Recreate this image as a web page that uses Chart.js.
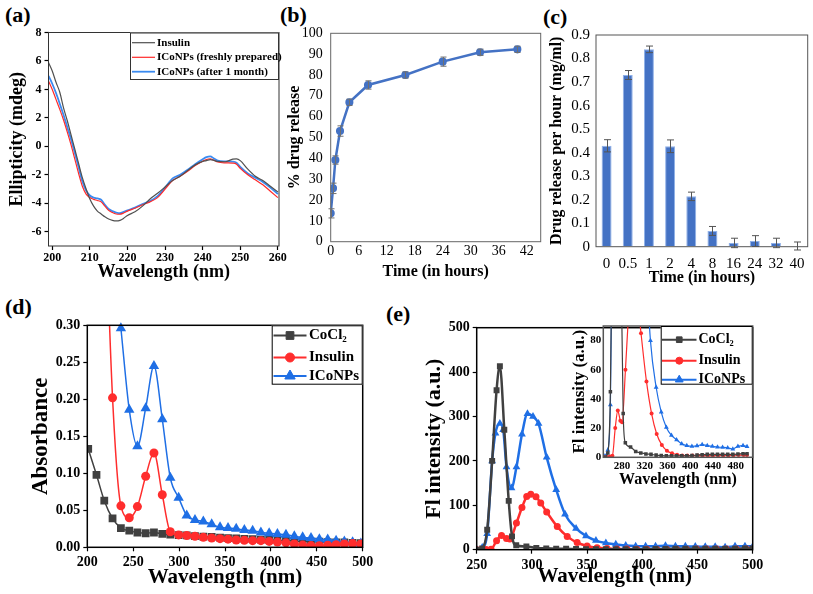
<!DOCTYPE html>
<html>
<head>
<meta charset="utf-8">
<script src="https://cdn.jsdelivr.net/npm/chart.js@4.4.0/dist/chart.umd.min.js"></script>
<style>
  body { margin: 0; background: #fff; width: 813px; height: 594px; overflow: hidden; position: relative; }
  canvas { position: absolute; }
  .tag { position: absolute; font: bold 22px "Liberation Serif", serif; line-height: 1; color: #000; }
</style>
</head>
<body>
<div class="tag" style="left:5px;top:4px">(a)</div>
<div class="tag" style="left:280px;top:4px">(b)</div>
<div class="tag" style="left:543px;top:6px">(c)</div>
<div class="tag" style="left:5px;top:296px">(d)</div>
<div class="tag" style="left:386px;top:303px">(e)</div>
<script>
// (a) CD spectra
const cdWavelength = [199, 200, 201, 202, 203, 204, 205, 206, 207, 208, 209, 210, 211, 212, 213, 214, 215, 216, 217, 218, 219, 220,
  222, 224, 226, 228, 230, 232, 234, 236, 238, 240, 241, 242, 243, 244, 246, 248, 249, 250, 252, 254, 256, 258, 260];
const cdInsulin = [5.9, 5.3, 4.5, 3.8, 2.7, 1.8, 0.8, -0.2, -1.2, -2.2, -3.0, -3.7, -4.2, -4.55, -4.75, -4.95, -5.1, -5.2, -5.24, -5.2, -5.05, -4.85,
  -4.6, -4.2, -3.7, -3.3, -2.85, -2.4, -2.1, -1.7, -1.3, -1.05, -1.0, -0.93, -0.98, -1.06, -1.08, -0.9, -0.88, -1.0, -1.6, -2.1, -2.4, -2.8, -3.2];
const cdFresh = [4.6, 4.0, 3.3, 2.6, 1.85, 1.0, 0.1, -0.9, -1.9, -2.8, -3.35, -3.6, -3.72, -3.8, -3.9, -4.2, -4.5, -4.65, -4.75, -4.77, -4.68, -4.55,
  -4.35, -4.1, -3.9, -3.6, -3.0, -2.4, -2.1, -1.75, -1.35, -1.05, -0.92, -0.87, -0.98, -1.1, -1.16, -1.18, -1.25, -1.55, -2.0, -2.35, -2.7, -3.15, -3.6];
const cdMonth = [4.95, 4.4, 3.75, 3.0, 2.2, 1.35, 0.5, -0.45, -1.45, -2.45, -3.1, -3.45, -3.6, -3.65, -3.75, -4.1, -4.4, -4.55, -4.65, -4.7, -4.6, -4.5,
  -4.3, -4.05, -3.85, -3.5, -2.9, -2.25, -2.0, -1.65, -1.25, -0.9, -0.75, -0.7, -0.85, -1.0, -1.05, -1.07, -1.15, -1.45, -1.9, -2.2, -2.5, -2.9, -3.35];
const cdXTicks = [200, 210, 220, 230, 240, 250, 260];
const cdYTicks = [-6, -4, -2, 0, 2, 4, 6, 8];

// (b) cumulative release
const releaseHours = [0, 0.5, 1, 2, 4, 8, 16, 24, 32, 40];
const releasePct = [13.6, 25.6, 39.2, 53.1, 66.9, 75.2, 80.0, 86.4, 90.9, 92.3];
const releaseErr = [2.2, 2.5, 2, 2.5, 1.5, 2, 1.5, 2.2, 1.5, 1.5];
const releaseXTicks = [0, 6, 12, 18, 24, 30, 36, 42];
const releaseYTicks = [0, 10, 20, 30, 40, 50, 60, 70, 80, 90, 100];

// (c) release per hour
const rateLabels = ['0', '0.5', '1', '2', '4', '8', '16', '24', '32', '40'];
const rateValues = [0.429, 0.730, 0.839, 0.427, 0.214, 0.067, 0.016, 0.024, 0.016, 0.003];
const rateErr = [0.026, 0.019, 0.014, 0.027, 0.018, 0.019, 0.02, 0.023, 0.02, 0.017];
const rateYTicks = [0, 0.1, 0.2, 0.3, 0.4, 0.5, 0.6, 0.7, 0.8, 0.9];

// (d) UV absorbance
const absWavelength = [201, 210, 218.5, 227.5, 236.6, 245.7, 254.6, 263.6, 272.6, 281.7, 290.4, 299.5, 308.3, 317.3, 326.4, 335.5, 344.6,
  353.3, 362.2, 371.1, 380.1, 389.1, 398.1, 407.1, 416.4, 425.5, 434.6, 443.7, 452.8, 461.9, 471, 480, 489, 498];
const absCoCl2 = [0.133, 0.098, 0.063, 0.039, 0.026, 0.0225, 0.020, 0.019, 0.020, 0.018, 0.017, 0.0165, 0.016, 0.015, 0.0145, 0.014, 0.013,
  0.0125, 0.012, 0.0115, 0.011, 0.0105, 0.010, 0.0095, 0.009, 0.0085, 0.008, 0.0078, 0.0075, 0.007, 0.0068, 0.0065, 0.006, 0.0055];
const absInsulin = [null, null, 0.5, 0.202, 0.056, 0.040, 0.055, 0.096, 0.1275, 0.071, 0.021, 0.0167, 0.016, 0.0149, 0.0135, 0.0126, 0.0117,
  0.011, 0.0099, 0.0095, 0.009, 0.009, 0.008, 0.007, 0.006, 0.0045, 0.003, 0.0023, 0.0022, 0.0027, 0.0036, 0.0045, 0.005, 0.0045];
const absIconp = [null, null, null, null, 0.296, 0.186, 0.1365, 0.188, 0.245, 0.173, 0.094, 0.067, 0.043, 0.037, 0.035, 0.031, 0.027,
  0.026, 0.025, 0.0234, 0.0225, 0.020, 0.019, 0.018, 0.017, 0.015, 0.0135, 0.0126, 0.011, 0.0104, 0.009, 0.0077, 0.0068, 0.005];
const absXTicks = [200, 250, 300, 350, 400, 450, 500];
const absYTicks = [0, 0.05, 0.10, 0.15, 0.20, 0.25, 0.30];

// (e) fluorescence
const flCoCl2Wl = [250, 255, 259.5, 264, 268, 271, 275, 279, 282, 285.8, 295, 304, 313, 322, 331, 340, 349, 358, 367, 376, 385, 394,
  403, 412, 421, 430, 439, 448, 457, 466, 475, 484, 493, 500];
const flCoCl2 = [0, 3, 45, 200, 359, 413, 270, 110, 30, 10, 7, 4, 3, 2.3, 2, 1.5, 1.2, 1, 1, 1, 1, 1,
  1.2, 1.5, 1.8, 2, 2, 2, 2, 2, 2, 2.2, 2.5, 2.5];
const flInsulinWl = [250, 254, 258.5, 263, 268, 272.5, 277, 280, 286, 291, 295.3, 299, 303.7, 308, 313.4, 323, 332, 341, 350, 359, 368,
  377, 386, 395, 404, 413, 422, 431, 440, 449, 458, 467, 476, 485, 494, 500];
const flInsulin = [0, 0, 0.5, 1, 20, 32, 25, 24, 60, 95, 120, 125, 119, 105, 85, 52, 30, 16, 8.5, 4.5, 2.8,
  1.8, 1.3, 1.2, 1.2, 1.2, 1.2, 1.2, 1.2, 1.3, 1.3, 1.3, 1.4, 1.5, 1.5, 1.5];
const flIconpWl = [250, 255, 259.5, 264, 267, 271, 274, 277, 281.5, 286, 291, 296, 301, 306, 313.4, 322, 330, 340, 349, 358, 367,
  376, 385, 394, 403, 412, 421, 430, 439, 448, 457, 466, 475, 484, 493, 500];
const flIconp = [1, 5, 36, 200, 262, 284, 270, 186, 139, 186, 260, 306, 300, 284, 208, 135, 80, 48, 31, 20.5, 15,
  12, 9.2, 8, 7.5, 7.8, 8.7, 8, 7.5, 7, 6.8, 6.5, 5.7, 7.5, 8, 7.4];
const flXTicks = [250, 300, 350, 400, 450, 500];
const flYTicks = [0, 100, 200, 300, 400, 500];
const insetXTicks = [280, 320, 360, 400, 440, 480];
const insetYTicks = [0, 20, 40, 60, 80];

const serif = 'Liberation Serif';
const font = (size, bold) => ({family: serif, size: size, weight: bold ? 'bold' : 'normal'});
const pts = (xs, ys) => xs.map((x, i) => ({x: x, y: ys[i]}));
const fixed = vals => scale => { scale.ticks = vals.map(v => ({value: v})); };

// box around the plot area
const framePlugin = {
  id: 'frame',
  afterDatasetsDraw(chart, args, o) {
    const a = chart.chartArea, ctx = chart.ctx;
    ctx.save();
    ctx.strokeStyle = o.color || '#000';
    ctx.lineWidth = o.width || 1;
    ctx.strokeRect(a.left, a.top, a.right - a.left, a.bottom - a.top);
    ctx.restore();
  }
};

// vertical error bars from dataset.errors
const errorPlugin = {
  id: 'errorBars',
  afterDatasetsDraw(chart, args, o) {
    const ctx = chart.ctx, ys = chart.scales.y;
    chart.data.datasets.forEach((ds, i) => {
      if (!ds.errors) return;
      const meta = chart.getDatasetMeta(i);
      ctx.save();
      ctx.strokeStyle = o.color || '#666';
      ctx.lineWidth = 1;
      meta.data.forEach((el, j) => {
        const raw = ds.data[j];
        const v = typeof raw === 'object' ? raw.y : raw;
        const hi = ys.getPixelForValue(v + ds.errors[j]);
        const lo = ys.getPixelForValue(v - ds.errors[j]);
        const x = Math.round(el.x) + 0.5;
        ctx.beginPath();
        ctx.moveTo(x, hi); ctx.lineTo(x, lo);
        ctx.moveTo(x - o.cap, hi); ctx.lineTo(x + o.cap, hi);
        ctx.moveTo(x - o.cap, lo); ctx.lineTo(x + o.cap, lo);
        ctx.stroke();
      });
      ctx.restore();
    });
  }
};

// Origin-style legend box drawn from the datasets
const boxLegendPlugin = {
  id: 'boxLegend',
  afterDraw(chart, args, o) {
    if (!o.box) return;
    const ctx = chart.ctx, dx = o.dx, dy = o.dy;
    const [l, t, r, b] = o.box;
    ctx.save();
    ctx.fillStyle = '#fff';
    ctx.fillRect(l - dx, t - dy, r - l, b - t);
    ctx.strokeStyle = o.borderColor || '#000';
    ctx.lineWidth = 1;
    ctx.strokeRect(l - dx + 0.5, t - dy + 0.5, r - l - 1, b - t - 1);
    ctx.font = 'bold ' + o.size + 'px "' + serif + '"';
    ctx.textBaseline = 'middle';
    chart.data.datasets.forEach((ds, k) => {
      const y = o.rows[k] - dy;
      ctx.strokeStyle = ds.borderColor;
      ctx.lineWidth = o.lineWidth || ds.borderWidth;
      ctx.beginPath();
      ctx.moveTo(o.line[0] - dx, y);
      ctx.lineTo(o.line[1] - dx, y);
      ctx.stroke();
      if (ds.pointRadius > 0) {
        ctx.fillStyle = ds.borderColor;
        ctx.lineWidth = 1;
        Chart.helpers.drawPoint(ctx, {pointStyle: ds.pointStyle, radius: o.radius[k], borderWidth: 1, rotation: 0},
          (o.line[0] + o.line[1]) / 2 - dx, y);
      }
      ctx.fillStyle = '#000';
      ctx.fillText(ds.label, o.textX - dx, y);
    });
    ctx.restore();
  }
};

function originAxis(min, max, ticks, fmt, tickFont, pad, title, titleFont, tickLen) {
  return {
    type: 'linear', min: min, max: max,
    afterBuildTicks: fixed(ticks),
    border: {display: false},
    grid: {display: true, drawOnChartArea: false, drawTicks: tickLen > 0, tickLength: tickLen, tickWidth: 1.2, tickColor: '#000'},
    ticks: {color: '#000', font: tickFont, padding: pad, autoSkip: false, maxRotation: 0, callback: fmt},
    title: {text: title, color: '#000', font: titleFont}
  };
}

function makeChart(cfg) {
  const [cx, cy, cw, ch] = cfg.canvas;
  const [bl, bt, br, bb] = cfg.box;
  const el = document.createElement('canvas');
  el.width = cw; el.height = ch;
  el.style.left = cx + 'px'; el.style.top = cy + 'px';
  el.style.width = cw + 'px'; el.style.height = ch + 'px';
  document.body.appendChild(el);
  const x = cfg.x, y = cfg.y;
  x.afterFit = s => { s.height = cy + ch - bb; };
  y.afterFit = s => { s.width = bl - cx; };
  const yl = y.title.font.size * 1.2, xl = x.title.font.size * 1.2;
  y.title.display = true;
  x.title.display = true;
  y.title.padding = {top: cfg.yTitleX - cx - yl / 2, bottom: 0};
  x.title.padding = {top: 0, bottom: cy + ch - cfg.xTitleY - xl / 2};
  const legend = cfg.legend ? Object.assign({dx: cx, dy: cy}, cfg.legend) : {};
  return new Chart(el, {
    type: cfg.type,
    data: {labels: cfg.labels, datasets: cfg.datasets},
    options: {
      responsive: false,
      animation: false,
      devicePixelRatio: 1,
      layout: {padding: {left: 0, top: bt - cy, right: cx + cw - br, bottom: 0}},
      plugins: {
        legend: {display: false},
        tooltip: {enabled: false},
        frame: cfg.frame,
        errorBars: cfg.errors || {},
        boxLegend: legend
      },
      scales: {x: x, y: y}
    },
    plugins: [framePlugin, errorPlugin, boxLegendPlugin]
  });
}

const plain = v => String(v);

// (a)
makeChart({
  type: 'line',
  canvas: [0, 0, 300, 295],
  box: [48.5, 32.5, 279, 246],
  yTitleX: 17, xTitleY: 272,
  frame: {color: '#333', width: 1},
  x: originAxis(199, 260.3, cdXTicks, plain, font(12, true), 1, 'Wavelength (nm)', font(18, true), 4),
  y: originAxis(-7, 8, cdYTicks, plain, font(12, true), 3, 'Ellipticity (mdeg)', font(18, true), 4),
  datasets: [
    {label: 'Insulin', data: pts(cdWavelength, cdInsulin), borderColor: '#505050', borderWidth: 1.2, pointRadius: 0, cubicInterpolationMode: 'monotone', tension: 0.4},
    {label: 'ICoNPs (freshly prepared)', data: pts(cdWavelength, cdFresh), borderColor: '#ff2a2a', borderWidth: 1.2, pointRadius: 0, cubicInterpolationMode: 'monotone', tension: 0.4},
    {label: 'ICoNPs (after 1 month)', data: pts(cdWavelength, cdMonth), borderColor: '#3a8af0', borderWidth: 1.8, pointRadius: 0, cubicInterpolationMode: 'monotone', tension: 0.4}
  ],
  legend: {box: [130, 32.5, 279, 80], rows: [42.7, 57.3, 71.7], line: [132, 155], textX: 157, size: 11, borderColor: '#333'}
});

// (b)
makeChart({
  type: 'line',
  canvas: [282, 0, 275, 295],
  box: [330.7, 33.3, 540.7, 241.7],
  yTitleX: 295, xTitleY: 271.5,
  frame: {color: '#666', width: 1},
  errors: {color: '#707070', cap: 3},
  x: originAxis(0, 45, releaseXTicks, plain, font(14, false), 1, 'Time (in hours)', font(16, true), 0),
  y: originAxis(0, 100, releaseYTicks, plain, font(14, false), 8, '% drug release', font(16, true), 0),
  datasets: [
    {label: 'release', data: pts(releaseHours, releasePct), errors: releaseErr, borderColor: '#4472C4', backgroundColor: '#4472C4',
      borderWidth: 2.5, pointRadius: 2.8, pointStyle: 'circle', tension: 0}
  ]
});

// (c)
const rateY = originAxis(0, 0.9, rateYTicks, v => v === 0 ? '0' : v.toFixed(1), font(15, false), 6, 'Drug release per hour (mg/ml)', font(16, true), 0);
makeChart({
  type: 'bar',
  canvas: [545, 0, 268, 295],
  box: [596, 35, 807.7, 246.7],
  yTitleX: 557, xTitleY: 278,
  frame: {color: '#555', width: 1},
  errors: {color: '#555', cap: 3.5},
  labels: rateLabels,
  x: {
    type: 'category', offset: true,
    border: {display: false}, grid: {display: false, drawTicks: false},
    ticks: {color: '#000', font: font(15, false), padding: 8, autoSkip: false, maxRotation: 0},
    title: {text: 'Time (in hours)', color: '#000', font: font(16, true)}
  },
  y: rateY,
  datasets: [
    {label: 'rate', data: rateValues, errors: rateErr, backgroundColor: '#4472C4', borderColor: '#8fb0e8', borderWidth: 1,
      barPercentage: 0.47, categoryPercentage: 1}
  ]
});

// (d)
makeChart({
  type: 'line',
  canvas: [0, 295, 400, 299],
  box: [87.3, 325.3, 362.7, 547.3],
  yTitleX: 41, xTitleY: 578,
  frame: {color: '#000', width: 1.5},
  x: originAxis(200, 500, absXTicks, plain, font(14, true), 3, 'Wavelength (nm)', font(21, true), 4),
  y: originAxis(0, 0.30, absYTicks, v => v.toFixed(2), font(14, true), 3, 'Absorbance', font(23, true), 4),
  datasets: [
    {label: 'CoCl₂', data: pts(absWavelength, absCoCl2), order: 3, borderColor: '#404040', backgroundColor: '#404040', borderWidth: 1.5,
      pointStyle: 'rect', pointRadius: 5.5, pointBorderWidth: 0, cubicInterpolationMode: 'monotone', tension: 0.4},
    {label: 'Insulin', data: pts(absWavelength, absInsulin), order: 1, borderColor: '#ff2d2d', backgroundColor: '#ff2d2d', borderWidth: 1.5,
      pointStyle: 'circle', pointRadius: 4.5, pointBorderWidth: 0, cubicInterpolationMode: 'monotone', tension: 0.4},
    {label: 'ICoNPs', data: pts(absWavelength, absIconp), order: 2, borderColor: '#1f6fe5', backgroundColor: '#1f6fe5', borderWidth: 1.5,
      pointStyle: 'triangle', pointRadius: 6, pointBorderWidth: 0, cubicInterpolationMode: 'monotone', tension: 0.4,
      clip: {left: 0, top: 8, right: 0, bottom: 0}}
  ],
  legend: {box: [271.7, 325.3, 362.7, 384.7], rows: [335.5, 357.5, 376], line: [273.5, 306.5], textX: 309, size: 15, radius: [5.5, 4.5, 6], lineWidth: 2}
});

// (e) main
makeChart({
  type: 'line',
  canvas: [405, 295, 408, 299],
  box: [476.7, 327.7, 752.7, 549.7],
  yTitleX: 434, xTitleY: 577,
  frame: {color: '#000', width: 1.5},
  x: originAxis(250, 500, flXTicks, plain, font(14, true), 3, 'Wavelength (nm)', font(21, true), 4),
  y: originAxis(0, 500, flYTicks, plain, font(14, true), 3, 'Fl intensity (a.u.)', font(22, true), 4),
  datasets: [
    {label: 'CoCl₂', data: pts(flCoCl2Wl, flCoCl2), order: 1, borderColor: '#404040', backgroundColor: '#404040', borderWidth: 2.5,
      pointStyle: 'rect', pointRadius: 4.2, pointBorderWidth: 0, cubicInterpolationMode: 'monotone', tension: 0.4},
    {label: 'Insulin', data: pts(flInsulinWl, flInsulin), order: 2, borderColor: '#ff2d2d', backgroundColor: '#ff2d2d', borderWidth: 2.5,
      pointStyle: 'circle', pointRadius: 3.5, pointBorderWidth: 0, cubicInterpolationMode: 'monotone', tension: 0.4},
    {label: 'ICoNPs', data: pts(flIconpWl, flIconp), order: 3, borderColor: '#1f6fe5', backgroundColor: '#1f6fe5', borderWidth: 2.5,
      pointStyle: 'triangle', pointRadius: 4.5, pointBorderWidth: 0, cubicInterpolationMode: 'monotone', tension: 0.4}
  ]
});

// (e) inset
makeChart({
  type: 'line',
  canvas: [560, 315, 215, 180],
  box: [603.3, 326, 752.7, 457.3],
  yTitleX: 580, xTitleY: 480,
  frame: {color: '#555', width: 1.5},
  x: originAxis(247, 510, insetXTicks, plain, font(11, true), 2, 'Wavelength (nm)', font(16, true), 0),
  y: originAxis(0, 90, insetYTicks, plain, font(11, true), 2, 'Fl intensity (a.u.)', font(17, true), 0),
  datasets: [
    {label: 'CoCl₂', data: pts(flCoCl2Wl, flCoCl2), order: 1, borderColor: '#404040', backgroundColor: '#404040', borderWidth: 1.2,
      pointStyle: 'rect', pointRadius: 2.5, pointBorderWidth: 0, cubicInterpolationMode: 'monotone', tension: 0.4},
    {label: 'Insulin', data: pts(flInsulinWl, flInsulin), order: 2, borderColor: '#ff2d2d', backgroundColor: '#ff2d2d', borderWidth: 1.2,
      pointStyle: 'circle', pointRadius: 2, pointBorderWidth: 0, cubicInterpolationMode: 'monotone', tension: 0.4},
    {label: 'ICoNPs', data: pts(flIconpWl, flIconp), order: 3, borderColor: '#1f6fe5', backgroundColor: '#1f6fe5', borderWidth: 1.2,
      pointStyle: 'triangle', pointRadius: 2.8, pointBorderWidth: 0, cubicInterpolationMode: 'monotone', tension: 0.4}
  ],
  legend: {box: [660.7, 326, 752.7, 384.7], rows: [339.7, 360.7, 379.7], line: [662, 696.5], textX: 698.5, size: 14, radius: [4, 3.5, 4.5], lineWidth: 2}
});
</script>
</body>
</html>
